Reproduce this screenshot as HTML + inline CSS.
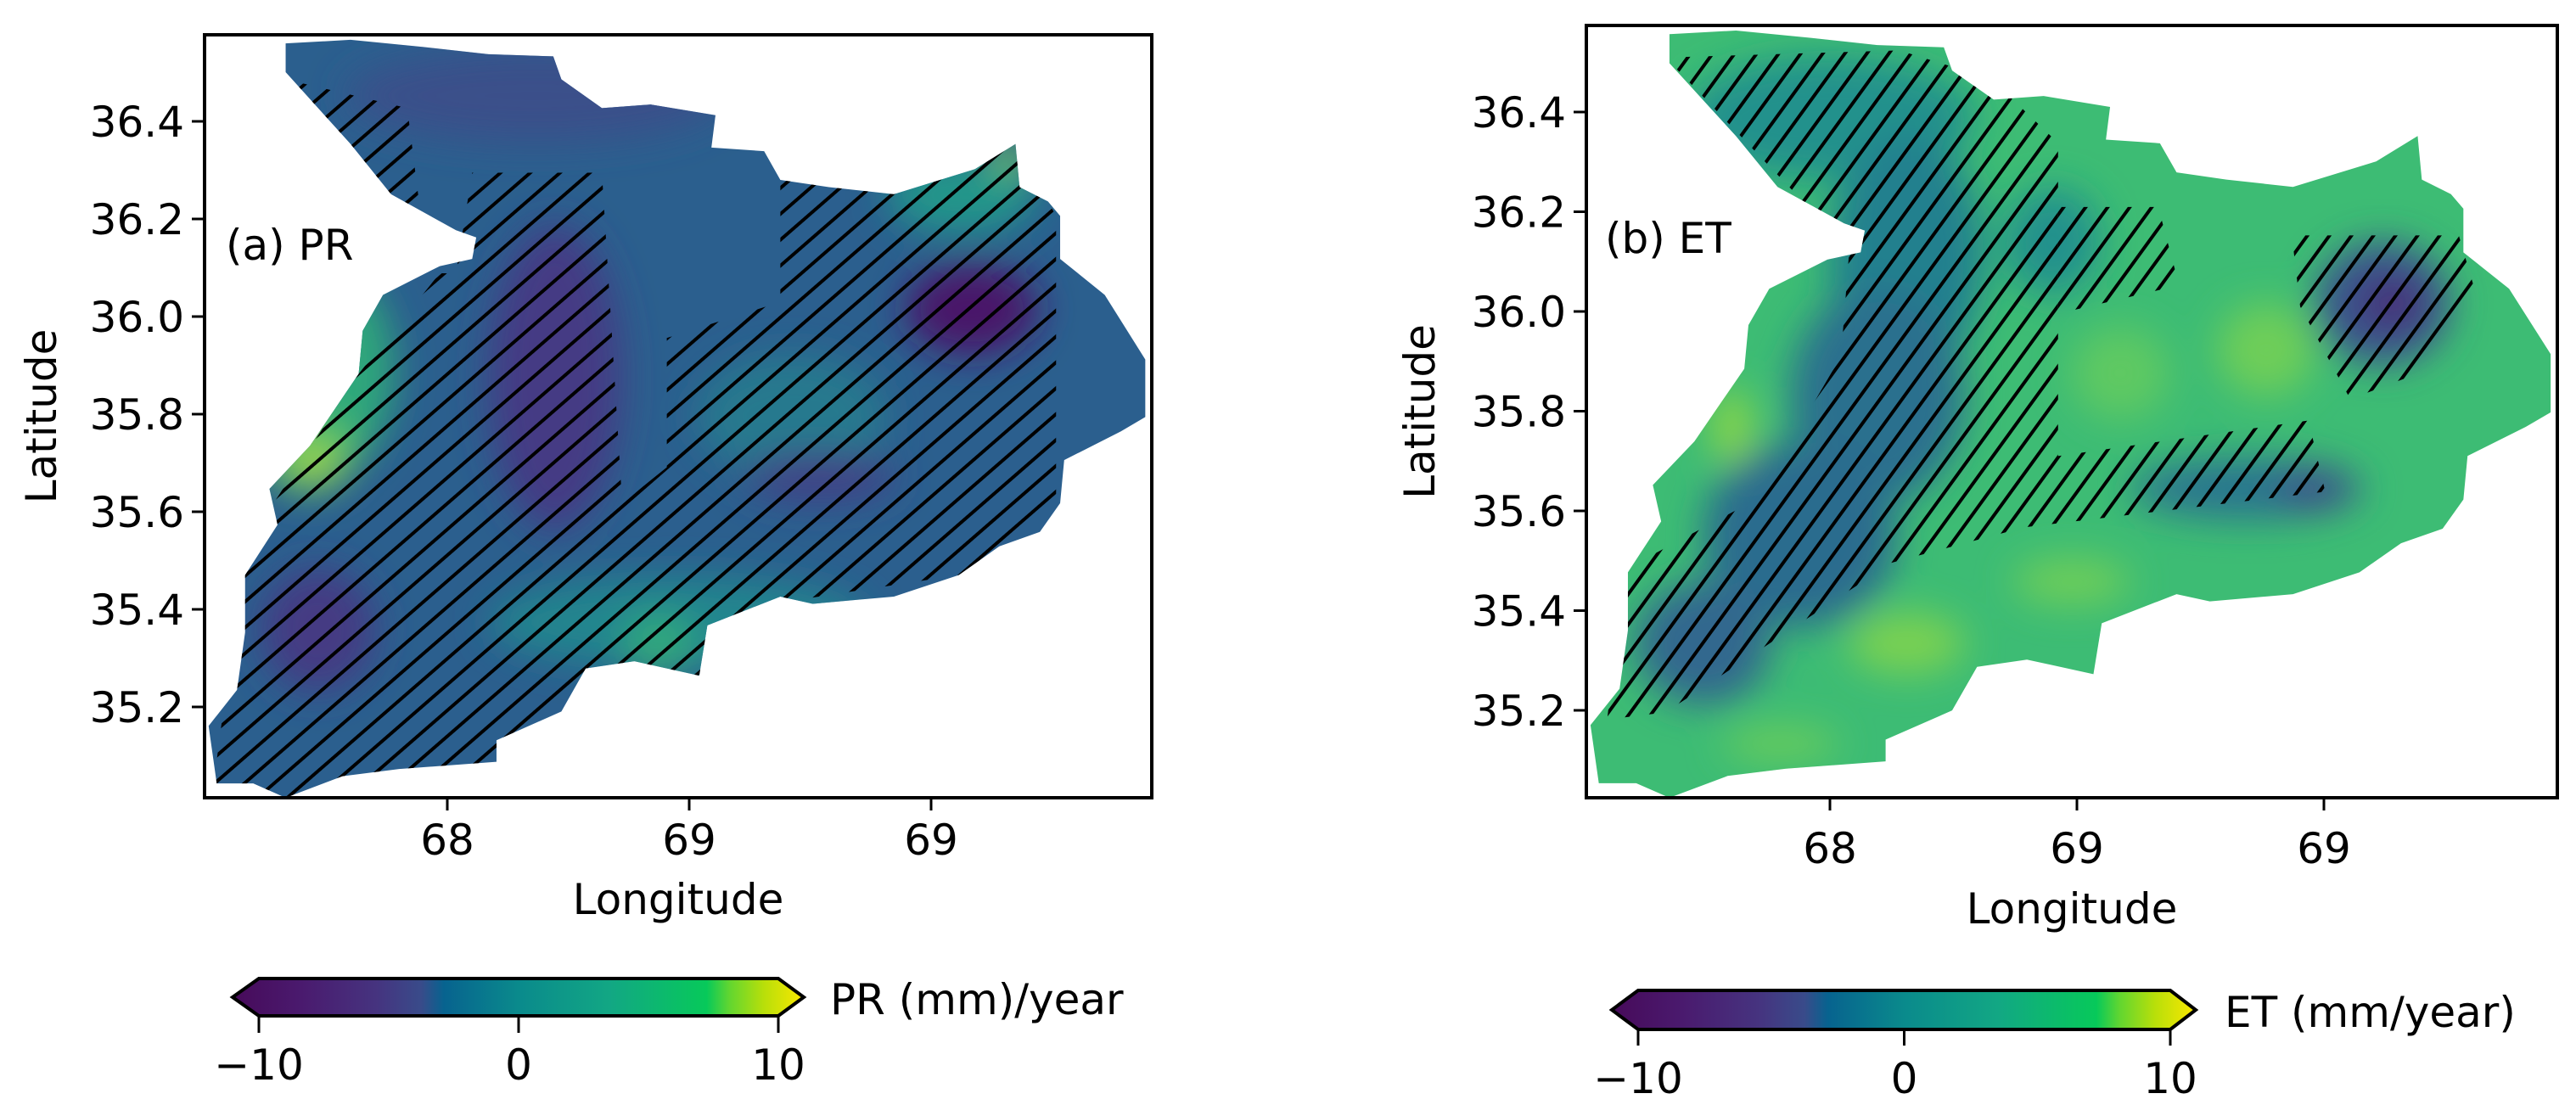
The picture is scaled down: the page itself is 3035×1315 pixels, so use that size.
<!DOCTYPE html>
<html><head><meta charset="utf-8"><style>
html,body{margin:0;padding:0;background:#fff}
svg{display:block}
text{font-family:"DejaVu Sans","Liberation Sans",sans-serif;fill:#000}
</style></head><body>
<svg id="fig" width="3035" height="1315" viewBox="0 0 3035 1315" xmlns="http://www.w3.org/2000/svg">
<defs>
<linearGradient id="vir" x1="0" x2="1" y1="0" y2="0">
<stop offset="0" stop-color="#470a5a"/><stop offset="0.12" stop-color="#4a1a6e"/>
<stop offset="0.25" stop-color="#46337f"/><stop offset="0.33" stop-color="#394b8a"/>
<stop offset="0.37" stop-color="#07638f"/><stop offset="0.5" stop-color="#0a8a8c"/>
<stop offset="0.66" stop-color="#12a784"/><stop offset="0.83" stop-color="#07c95a"/>
<stop offset="0.87" stop-color="#62d630"/><stop offset="0.93" stop-color="#b8df0a"/>
<stop offset="1" stop-color="#fbe700"/></linearGradient>
<filter id="blur" x="-50%" y="-50%" width="200%" height="200%"><feGaussianBlur stdDeviation="22"/></filter>
<pattern id="hatchA" patternUnits="userSpaceOnUse" width="23" height="23" patternTransform="rotate(49)"><line x1="11.5" y1="0" x2="11.5" y2="23" stroke="#000" stroke-width="4"/></pattern>
<pattern id="hatchB" patternUnits="userSpaceOnUse" width="21" height="21" patternTransform="rotate(36)"><line x1="10.5" y1="0" x2="10.5" y2="21" stroke="#000" stroke-width="4"/></pattern>
</defs>
<g id="root"></g>
</svg>
<script>
// ---- data ----
const latTicks = [36.4, 36.2, 36.0, 35.8, 35.6, 35.4, 35.2];
const lonTickLabels = ["68", "69", "69"];
const lonTickIdx = [0, 1, 2];
const cbarTicks = [-10, 0, 10];
const panelLabels = ["(a) PR", "(b) ET"];
const cbarLabels = ["PR (mm)/year", "ET (mm/year)"];

const outlineZ = [[350,60],[430,55],[520,65],[600,75],[680,78],[690,110],[740,150],[800,145],[880,160],[875,205],[940,210],[960,250],[1020,260],[1100,270],[1200,235],[1250,200],[1255,260],[1290,280],[1305,300],[1305,360],[1360,410],[1410,500],[1410,580],[1380,600],[1310,640],[1305,700],[1280,740],[1230,760],[1180,800],[1100,830],[1000,840],[960,830],[870,870],[860,940],[780,920],[720,930],[690,990],[610,1030],[610,1060],[490,1070],[420,1080],[350,1110],[310,1090],[265,1090],[255,1010],[290,960],[300,880],[300,800],[340,730],[330,680],[380,620],[440,520],[445,460],[470,410],[540,370],[580,360],[585,330],[560,320],[480,270],[430,200],[350,100]];
const hatchAZ = [
 [[260,1100],[300,760],[440,520],[540,380],[560,380],[580,240],[740,240],[765,700],[820,650],[820,470],[960,420],[960,250],[1250,200],[1300,300],[1300,700],[1250,760],[1180,800],[950,840],[860,940],[700,980],[600,1060],[350,1110]],
 [[350,110],[500,150],[520,330],[430,240]]
];
const hatchBZ = [
 [[470,80],[750,70],[860,110],[940,200],[940,640],[1240,590],[1260,690],[900,740],[740,790],[470,1000],[400,1010],[420,800],[580,700],[680,500],[690,350],[600,240]],
 [[940,290],[1060,290],[1085,400],[940,440]],
 [[1220,330],[1420,330],[1440,410],[1380,520],[1290,560],[1230,430]]
];
const blobsA = [[0.35,0.08,0.2,0.06,"#3b4f8a"],[0.15,0.44,0.05,0.12,"#2fa87a"],[0.11,0.55,0.05,0.05,"#5cc463"],[0.115,0.56,0.02,0.015,"#c8e020"],
 [0.37,0.45,0.07,0.2,"#443b84"],[0.12,0.78,0.06,0.08,"#443a83"],[0.5,0.77,0.2,0.06,"#23858e"],[0.48,0.8,0.04,0.04,"#30aa7c"],
 [0.81,0.36,0.07,0.06,"#481869"],[0.8,0.21,0.08,0.05,"#22968a"],[0.85,0.16,0.02,0.02,"#7ad151"],[0.62,0.5,0.1,0.08,"#26798e"],[0.65,0.58,0.08,0.03,"#433e85"]];
const blobsB = [[0.25,0.12,0.15,0.08,"#21918c"],[0.33,0.3,0.08,0.16,"#24808e"],[0.3,0.48,0.09,0.14,"#2a708e"],[0.22,0.66,0.1,0.12,"#2c6c8e"],[0.12,0.8,0.07,0.08,"#31688e"],
 [0.48,0.28,0.05,0.07,"#21918c"],
 [0.15,0.52,0.02,0.05,"#8fd744"],[0.33,0.8,0.06,0.04,"#7ad151"],[0.5,0.72,0.06,0.03,"#6ece58"],[0.2,0.93,0.06,0.02,"#6ece58"],
 [0.68,0.6,0.12,0.04,"#2b748e"],[0.75,0.6,0.04,0.03,"#3b528b"],[0.82,0.36,0.07,0.08,"#3b528b"],[0.83,0.36,0.03,0.03,"#482575"],
 [0.7,0.42,0.05,0.06,"#6ece58"],[0.55,0.45,0.05,0.06,"#5ec962"]];

const panels = [
 {key:"a", x0:241, x1:1357, y0:41, y1:940, lat0:143, lat1:833, lon0:527, lon1:812, base:"#2b5f8e", blobs:blobsA, hatch:hatchAZ, hz:[250,1418,48,1110], hpat:"hatchA",
  tickBase:1007, xlabBase:1077, ylabX:66, lbl:[266,306], cb:{x0:305,x1:917,y0:1153,y1:1197,tl:274,tr:947,tickB:1217,lb:1272,lx:978,ly:1195}},
 {key:"b", x0:1869, x1:3013, y0:30, y1:940, lat0:132, lat1:837, lon0:2156, lon1:2447, base:"#3dbc74", blobs:blobsB, hatch:hatchBZ, hz:[375,1538,35,1120], hpat:"hatchB",
  tickBase:1017, xlabBase:1088, ylabX:1690, lbl:[1891,298], cb:{x0:1930,x1:2557,y0:1167,y1:1213,tl:1899,tr:2587,tickB:1232,lb:1288,lx:2621,ly:1210}}
];
const NS="http://www.w3.org/2000/svg";
const root=document.getElementById('root');
function mk(tag,attrs,parent){const e=document.createElementNS(NS,tag);for(const k in attrs)e.setAttribute(k,attrs[k]);(parent||root).appendChild(e);return e;}

panels.forEach((p,pi)=>{
  const W=p.x1-p.x0,H=p.y1-p.y0;
  const fxA=x=>(x-250)/1168, fyA=y=>(y-48)/1062;
  const X=f=>p.x0+f*W, Y=f=>p.y0+f*H;
  const outline=outlineZ.map(q=>X(fxA(q[0]))+","+Y(fyA(q[1]))).join(" ");
  const g=mk('g',{});
  
  
  const cp=mk('clipPath',{id:'clip'+p.key},g);
  mk('polygon',{points:outline},cp);
  const mg=mk('g',{'clip-path':'url(#clip'+p.key+')'},g);
  
  
  mk('rect',{x:p.x0,y:p.y0,width:W,height:H,fill:p.base},mg);
  const bg=mk('g',{filter:'url(#blur)'},mg);
  p.blobs.forEach(b=>{
    const el=mk('ellipse',{cx:X(b[0]),cy:Y(b[1]),rx:b[2]*W,ry:b[3]*H,fill:b[4]},bg);
    
    
  });
  const hz=p.hz;
  p.hatch.forEach(poly=>{
    const pts=poly.map(q=>X((q[0]-hz[0])/(hz[1]-hz[0]))+","+Y((q[1]-hz[2])/(hz[3]-hz[2]))).join(" ");
    const el=mk('polygon',{points:pts,fill:'url(#'+p.hpat+')'},mg);
    
    
  });
  const fr=mk('rect',{x:p.x0,y:p.y0,width:W,height:H,fill:'none',stroke:'#000','stroke-width':4},g);
  
  
  const latY=v=>p.lat0+(latTicks[0]-v)/(latTicks[0]-latTicks[latTicks.length-1])*(p.lat1-p.lat0);
  latTicks.forEach(v=>{
    const y=latY(v);
    mk('line',{x1:p.x0-15,x2:p.x0,y1:y,y2:y,stroke:'#000','stroke-width':3},g);
    const t=mk('text',{x:p.x0-24,y:y+18,'font-size':50,'text-anchor':'end'},g);
    t.textContent=v.toFixed(1);
    
    
  });
  lonTickIdx.forEach((v,i)=>{
    const x=p.lon0+v*(p.lon1-p.lon0);
    mk('line',{x1:x,x2:x,y1:p.y1,y2:p.y1+15,stroke:'#000','stroke-width':3},g);
    const t=mk('text',{x:x,y:p.tickBase,'font-size':50,'text-anchor':'middle'},g);
    t.textContent=lonTickLabels[i];
    
    
  });
  const xl=mk('text',{x:(p.x0+p.x1)/2,y:p.xlabBase,'font-size':50,'text-anchor':'middle'},g);
  xl.textContent='Longitude';
  
  
  const cy=(p.y0+p.y1)/2;
  const yl=mk('text',{x:p.ylabX,y:cy,'font-size':50,'text-anchor':'middle',transform:'rotate(-90 '+p.ylabX+' '+cy+')'},g);
  yl.textContent='Latitude';
  
  
  const pl=mk('text',{x:p.lbl[0],y:p.lbl[1],'font-size':50},g);
  pl.textContent=panelLabels[pi];
  
  
  const c=p.cb, cm=(c.y0+c.y1)/2;
  const cg=mk('g',{},g);
  
  
  mk('polygon',{points:`${c.tl},${cm} ${c.x0},${c.y0} ${c.x1},${c.y0} ${c.tr},${cm} ${c.x1},${c.y1} ${c.x0},${c.y1}`,fill:'url(#vir)',stroke:'#000','stroke-width':4,'stroke-linejoin':'miter'},cg);
  const cx=v=>c.x0+(v-cbarTicks[0])/(cbarTicks[cbarTicks.length-1]-cbarTicks[0])*(c.x1-c.x0);
  cbarTicks.forEach(v=>{
    const x=cx(v);
    mk('line',{x1:x,x2:x,y1:c.y1,y2:c.tickB,stroke:'#000','stroke-width':3},cg);
    const t=mk('text',{x:x,y:c.lb,'font-size':50,'text-anchor':'middle'},cg);
    t.textContent=v<0?'\u2212'+Math.abs(v):String(v);
    
    
  });
  const ct=mk('text',{x:c.lx,y:c.ly,'font-size':50},cg);
  ct.textContent=cbarLabels[pi];
  
  
});
</script>
</body></html>
